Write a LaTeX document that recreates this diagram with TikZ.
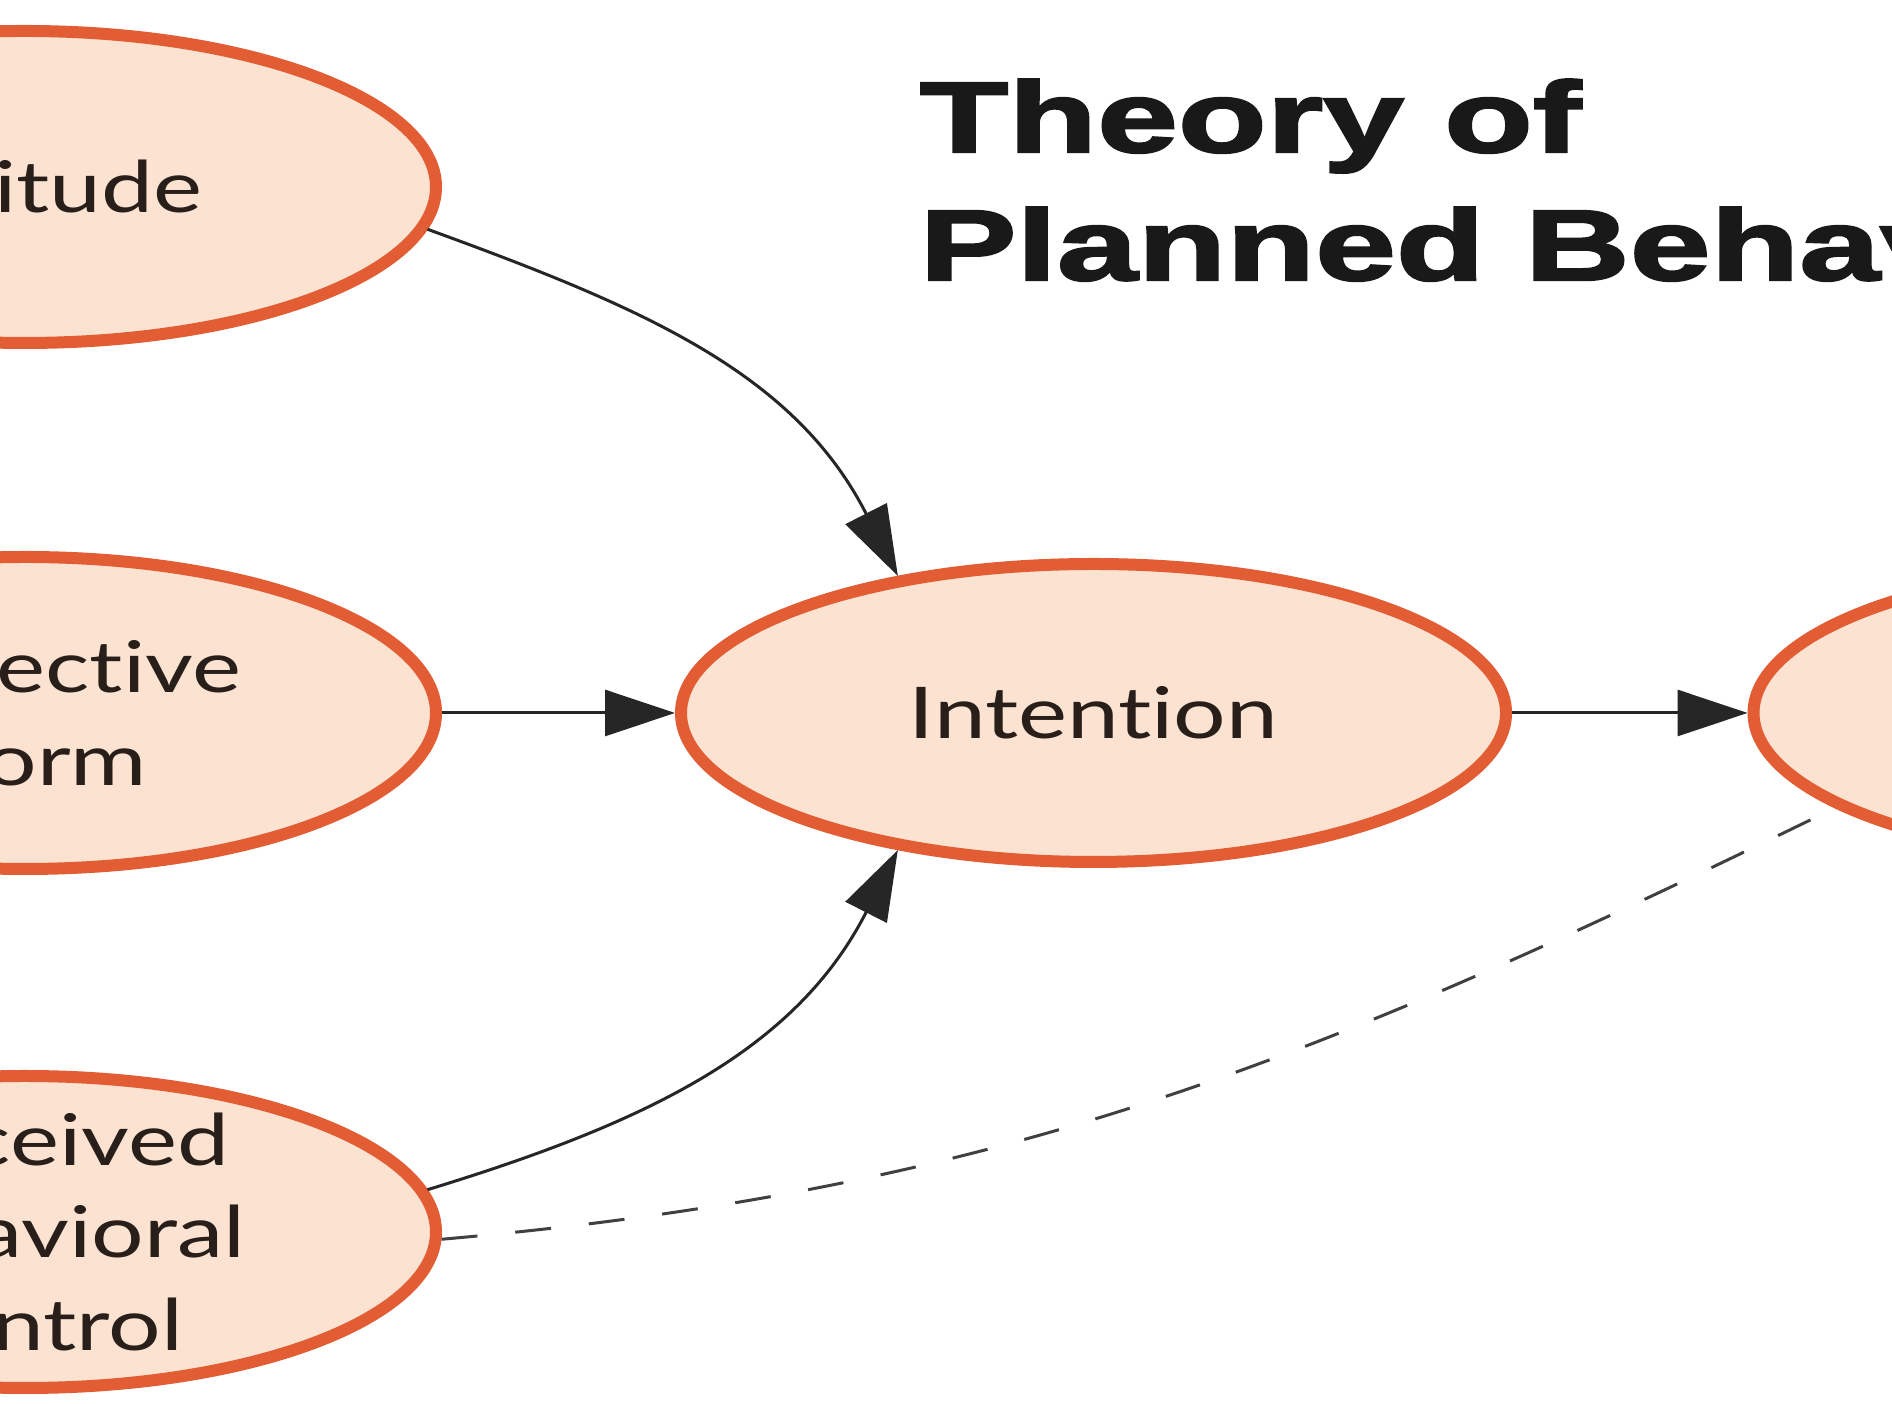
\documentclass[tikz,border=0pt]{standalone}
\usepackage{fontspec}
\setmainfont{Lato}[FakeStretch=1.3, Ligatures={NoCommon}]
\newfontfamily\titlefont{Liberation Sans}[FakeStretch=1.45,BoldFeatures={FakeBold=2.5}]
\usetikzlibrary{arrows.meta, shapes.geometric}
\definecolor{peach}{RGB}{252,226,208}
\definecolor{rim}{RGB}{226,92,52}
\definecolor{ink}{RGB}{40,30,26}
\tikzset{
  bubble/.style={draw=rim, fill=peach, ellipse, line width=0.12cm, inner sep=0pt, minimum width=8.22cm, minimum height=3.12cm},
  lbl/.style={text=ink, font=\fontsize{20.3}{26.2}\selectfont, align=center},
  link/.style={draw=black!85, line width=0.03cm, -{Triangle[length=0.7cm, width=0.46cm]}},
  ttl/.style={font=\titlefont\bfseries\fontsize{28.5}{36.4}\selectfont, text=black!90, inner sep=0pt, anchor=base west}
}
\begin{document}
\begin{tikzpicture}
\useasboundingbox (0,0) rectangle (18.92,14.04);
\clip (0,0) rectangle (18.92,14.04);
% the four constructs
\node[bubble, label={[lbl, xshift=0.1cm]center:Attitude}] (att) at (0.25,12.17) {};
\node[bubble, label={[lbl, xshift=0.06cm]center:Subjective\\Norm}] (sn) at (0.25,6.91) {};
\node[bubble, label={[lbl, xshift=0.06cm]center:Perceived\\Behavioral\\Control}] (pbc) at (0.25,1.72) {};
\node[bubble, minimum width=8.25cm, minimum height=2.98cm, label={[lbl]center:Intention}] (int) at (10.935,6.91) {};
\node[bubble, minimum width=8.25cm, minimum height=2.98cm] (beh) at (21.66,6.91) {};
% title
\node[ttl] (title1) at (9.19,12.52) {Theory of};
\node[ttl] (title2) at (9.19,11.24) {Planned Behavior};
% links
\draw[link] (att.-6) to[out=-20, in=117] (int.145);
\draw[link] (sn) -- (int);
\draw[link] (pbc.6) to[out=17, in=-117] (int.215);
\draw[link] (int) -- (beh);
\draw[dash pattern=on 0.36cm off 0.38cm, line width=0.03cm, black!75] (pbc.-1) to[out=5, in=206] (beh.196);
\end{tikzpicture}
\end{document}
